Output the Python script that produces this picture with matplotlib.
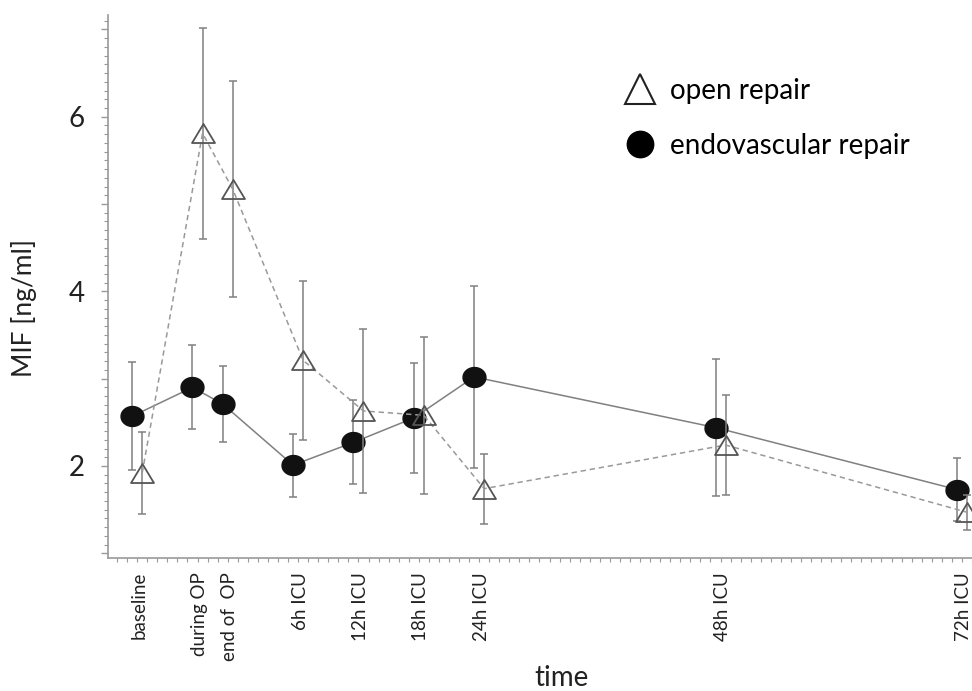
import numpy as np
import matplotlib
matplotlib.use("Agg")
import matplotlib.pyplot as plt
from matplotlib.path import Path
from matplotlib.lines import Line2D
from matplotlib.ticker import MultipleLocator, FuncFormatter

plt.rcParams['font.family'] = ['Lato', 'DejaVu Sans']

# time points (hours relative to start of ICU stay)
labels = ['baseline', 'during OP', 'end of  OP', '6h ICU', '12h ICU',
          '18h ICU', '24h ICU', '48h ICU', '72h ICU']
hours = np.array([-10, -4, -1, 6, 12, 18, 24, 48, 72])

# MIF [ng/ml], mean and SD
open_mean = [1.92, 5.81, 5.17, 3.21, 2.63, 2.58, 1.74, 2.24, 1.47]
open_sd = [0.47, 1.21, 1.24, 0.91, 0.94, 0.90, 0.40, 0.57, 0.20]
endo_mean = [2.57, 2.90, 2.71, 2.01, 2.27, 2.55, 3.02, 2.44, 1.73]
endo_sd = [0.62, 0.48, 0.44, 0.36, 0.48, 0.63, 1.04, 0.78, 0.36]

# markers: slightly flattened circle and triangle
t = np.linspace(0, 2*np.pi, 60)
ellipse = Path(np.column_stack([np.cos(t), 0.87*np.sin(t)]), closed=True)
tri = Path([(0, 0.83), (-1, -0.83), (1, -0.83), (0, 0.83)], closed=True)

fig = plt.figure(figsize=(9.72, 6.91), dpi=100)
ax = fig.add_axes([108/972, 1-558/691, (972-108)/972, (558-15)/691])

gray = '#808080'
ax.errorbar(hours-0.5, endo_mean, yerr=endo_sd, fmt='none', ecolor=gray,
            elinewidth=1.1, capsize=2.8, capthick=1.1, zorder=2)
ax.plot(hours-0.5, endo_mean, color=gray, lw=1.1, zorder=2)
ax.plot(hours-0.5, endo_mean, ls='none', marker=ellipse, ms=16.5,
        mfc='#111111', mec='#111111', zorder=3)

ax.errorbar(hours+0.5, open_mean, yerr=open_sd, fmt='none', ecolor=gray,
            elinewidth=1.1, capsize=2.8, capthick=1.1, zorder=4)
ax.plot(hours+0.5, open_mean, color='#999999', lw=1.1, ls=(0, (3.5, 2.5)), zorder=4)
ax.plot(hours+0.5, open_mean, ls='none', marker=tri, ms=16.5, mfc='none',
        mec='#555555', mew=1.3, zorder=5, clip_on=False)

ax.set_xlim(-12.9, 73.0)
ax.set_ylim(0.946, 7.165)

for s in ['top', 'right']:
    ax.spines[s].set_visible(False)
for s in ['left', 'bottom']:
    ax.spines[s].set_color('#999999')
    ax.spines[s].set_linewidth(1.2)

ax.yaxis.set_major_locator(MultipleLocator(1))
ax.yaxis.set_minor_locator(MultipleLocator(0.1))
ax.yaxis.set_major_formatter(FuncFormatter(lambda v, p: '%d' % v if int(round(v)) % 2 == 0 else ''))
ax.tick_params(axis='y', which='major', length=5, width=1, color='#999999',
               labelsize=20, pad=12, labelcolor='#222222')
ax.tick_params(axis='y', which='minor', length=3, width=0.8, color='#999999')

ax.set_xticks(hours + 0.2)
ax.set_xticklabels(labels, rotation=90, va='top')
ax.xaxis.set_minor_locator(MultipleLocator(1))
ax.tick_params(axis='x', which='major', length=0, labelsize=13.5, pad=10,
               labelcolor='#222222')
ax.tick_params(axis='x', which='minor', length=3, width=0.8, color='#999999')

ax.set_xlabel('time', fontsize=20, color='#222222')
ax.xaxis.set_label_coords(0.525, -0.197)
ax.set_ylabel('MIF [ng/ml]', fontsize=19, color='#222222')
ax.yaxis.set_label_coords(-0.082, 0.46)

handles = [Line2D([], [], ls='none', marker='^', ms=22, mfc='none', mec='#222222', mew=1.5),
           Line2D([], [], ls='none', marker='o', ms=19, mfc='black', mec='black')]
ax.legend(handles, ['open repair', 'endovascular repair'], loc='upper left',
          bbox_to_anchor=(623/972, 1-78/691), bbox_transform=fig.transFigure,
          frameon=False, fontsize=20, handlelength=1.2, handletextpad=0.5,
          labelspacing=1.05, borderpad=0, borderaxespad=0)

fig.savefig('out.png', dpi=100)
